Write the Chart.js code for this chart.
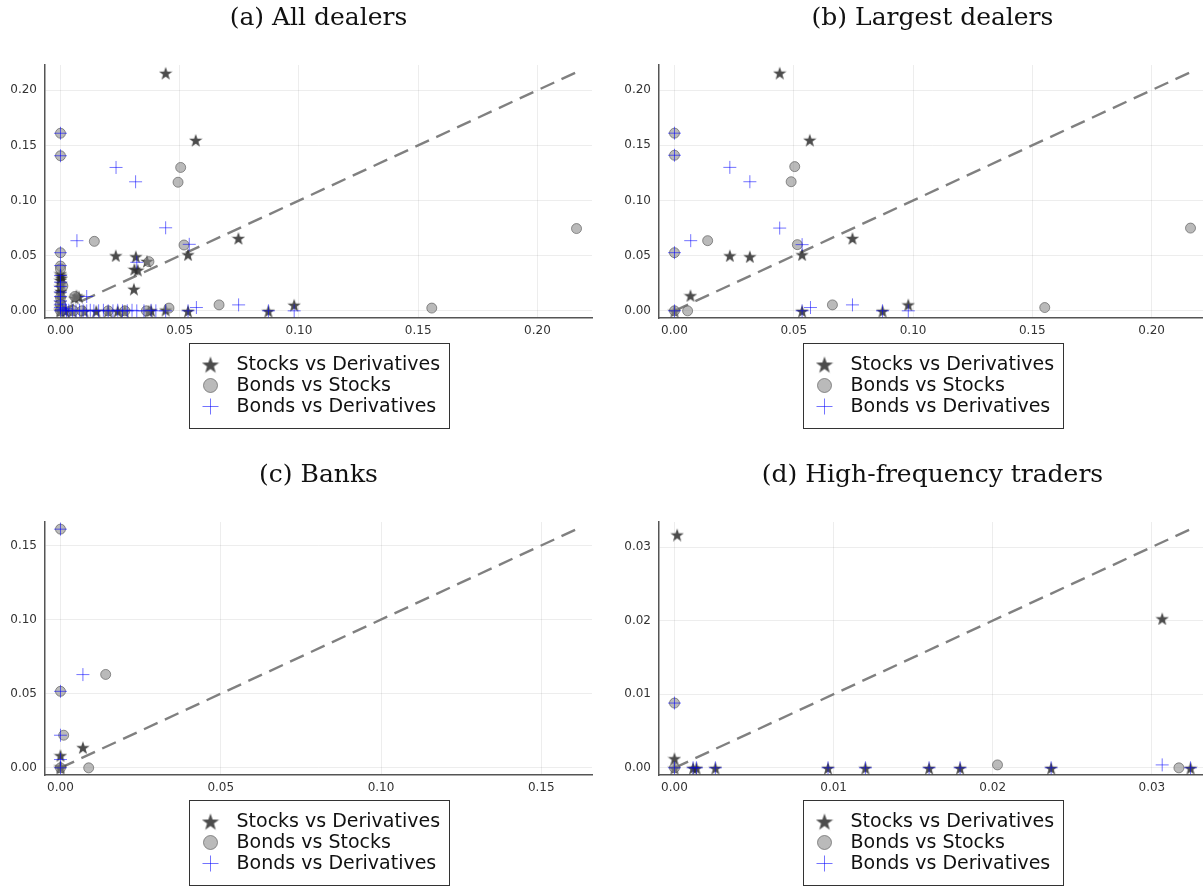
<!DOCTYPE html>
<html>
<head>
<meta charset="utf-8">
<script src="https://cdn.jsdelivr.net/npm/chart.js@4.4.1/dist/chart.umd.min.js"></script>
<style>
  html, body { margin: 0; padding: 0; background: #fff; overflow: hidden; width: 1203px; height: 886px; }
  .panel { position: absolute; width: 613px; height: 440px; }
</style>
</head>
<body>
<div class="panel" style="left:0;top:0"><canvas id="chartA" width="613" height="440"></canvas></div>
<div class="panel" style="left:614px;top:0"><canvas id="chartB" width="613" height="440"></canvas></div>
<div class="panel" style="left:0;top:457px"><canvas id="chartC" width="613" height="440"></canvas></div>
<div class="panel" style="left:614px;top:457px"><canvas id="chartD" width="613" height="440"></canvas></div>
<script>
// series labels, shared by all four panels
const seriesLabels = ['Stocks vs Derivatives', 'Bonds vs Stocks', 'Bonds vs Derivatives'];

// (a) All dealers
const aStocksDeriv = [
  [0.0441, 0.2158], [0.0567, 0.1550], [0.0746, 0.0660], [0.0232, 0.0503], [0.0316, 0.0494],
  [0.0535, 0.0512], [0.0363, 0.0452], [0.0324, 0.0372], [0.0310, 0.0380], [0.0308, 0.0200],
  [0.0059, 0.0120], [0.0077, 0.0130], [0.0067, 0.0140], [0.0980, 0.0055],
  [0.0441, 0.0010], [0.0535, 0.0000], [0.0872, 0.0000], [0.0269, 0.0000], [0.0370, 0.0000], [0.0380, 0.0005],
  [0.0000, 0.0340], [0.0002, 0.0320], [0.0004, 0.0300], [0.0000, 0.0280], [0.0003, 0.0250], [0.0000, 0.0220],
  [0.0002, 0.0180], [0.0000, 0.0160], [0.0001, 0.0120], [0.0000, 0.0080], [0.0000, 0.0040], [0.0000, 0.0010],
  [0.0000, 0.0000], [0.0020, 0.0000], [0.0050, 0.0000], [0.0100, 0.0000], [0.0150, 0.0000], [0.0200, 0.0000],
  [0.0240, 0.0000]
];
const aBondsStocks = [
  [0.0504, 0.1300], [0.0493, 0.1166], [0.0142, 0.0630], [0.0518, 0.0597], [0.0371, 0.0446],
  [0.0665, 0.0054], [0.0455, 0.0025], [0.1557, 0.0025], [0.2164, 0.0746],
  [0.0000, 0.1610], [0.0000, 0.1406], [0.0000, 0.0527], [0.0000, 0.0406], [0.0000, 0.0380],
  [0.0010, 0.0225], [0.0000, 0.0120], [0.0000, 0.0060], [0.0000, 0.0000], [0.0055, 0.0000],
  [0.0090, 0.0000], [0.0200, 0.0000], [0.0270, 0.0000], [0.0360, 0.0000], [0.0060, 0.0130]
];
const aBondsDeriv = [
  [0.0233, 0.1300], [0.0315, 0.1170], [0.0441, 0.0753], [0.0069, 0.0636], [0.0540, 0.0603],
  [0.0320, 0.0440], [0.0110, 0.0130], [0.0747, 0.0054], [0.0570, 0.0030], [0.0980, 0.0000],
  [0.0441, 0.0000], [0.0535, 0.0000], [0.0872, 0.0000],
  [0.0000, 0.1610], [0.0000, 0.1406], [0.0000, 0.0527], [0.0000, 0.0410], [0.0000, 0.0320],
  [0.0000, 0.0260], [0.0000, 0.0220], [0.0000, 0.0170], [0.0000, 0.0130], [0.0000, 0.0090],
  [0.0000, 0.0060], [0.0000, 0.0030], [0.0000, 0.0000], [0.0010, 0.0010], [0.0020, 0.0020],
  [0.0025, 0.0000], [0.0035, 0.0005], [0.0050, 0.0000], [0.0065, 0.0000], [0.0080, 0.0005],
  [0.0095, 0.0000], [0.0110, 0.0000], [0.0125, 0.0005], [0.0140, 0.0000], [0.0160, 0.0000],
  [0.0180, 0.0005], [0.0200, 0.0000], [0.0220, 0.0000], [0.0240, 0.0005], [0.0260, 0.0000],
  [0.0280, 0.0000], [0.0300, 0.0005], [0.0320, 0.0000], [0.0350, 0.0000], [0.0380, 0.0005],
  [0.0400, 0.0000]
];

// (b) Largest dealers
const bStocksDeriv = [
  [0.0441, 0.2158], [0.0567, 0.1550], [0.0746, 0.0660], [0.0232, 0.0503], [0.0316, 0.0494],
  [0.0535, 0.0512], [0.0067, 0.0141], [0.0535, 0.0000], [0.0872, 0.0000], [0.0000, 0.0000],
  [0.0980, 0.0058]
];
const bBondsStocks = [
  [0.0504, 0.1307], [0.0489, 0.1170], [0.0139, 0.0636], [0.0515, 0.0600], [0.0662, 0.0054],
  [0.0055, 0.0000], [0.0000, 0.1610], [0.0000, 0.1410], [0.0000, 0.0527], [0.0000, 0.0000],
  [0.1552, 0.0030], [0.2163, 0.0750]
];
const bBondsDeriv = [
  [0.0232, 0.1300], [0.0316, 0.1170], [0.0441, 0.0750], [0.0068, 0.0636], [0.0535, 0.0600],
  [0.0570, 0.0030], [0.0746, 0.0054], [0.0872, 0.0000], [0.0535, 0.0000], [0.0000, 0.1610],
  [0.0000, 0.1410], [0.0000, 0.0527], [0.0000, 0.0000], [0.0980, 0.0000]
];

// (c) Banks
const cStocksDeriv = [[0.0070, 0.0139], [0.0000, 0.0085], [0.0000, 0.0010], [0.0000, 0.0000]];
const cBondsStocks = [[0.0000, 0.1610], [0.0141, 0.0630], [0.0000, 0.0516], [0.0010, 0.0220], [0.0088, 0.0000], [0.0000, 0.0000]];
const cBondsDeriv = [[0.0000, 0.1610], [0.0070, 0.0629], [0.0000, 0.0516], [0.0000, 0.0220], [0.0000, 0.0056], [0.0000, 0.0000]];

// (d) High-frequency traders
const dStocksDeriv = [
  [0.00017, 0.0317], [0.0000, 0.0013], [0.0000, 0.0000], [0.00117, 0.0000], [0.00138, 0.0000],
  [0.00257, 0.0000], [0.00965, 0.0000], [0.0120, 0.0000], [0.0160, 0.0000], [0.01795, 0.0000],
  [0.02367, 0.0000], [0.03243, 0.0000], [0.03065, 0.0203]
];
const dBondsStocks = [[0.0000, 0.0088], [0.0203, 0.0004], [0.0317, 0.0000], [0.0000, 0.0000]];
const dBondsDeriv = [
  [0.0000, 0.0088], [0.03065, 0.0004], [0.0000, 0.0000], [0.00117, 0.0000], [0.00138, 0.0000],
  [0.00257, 0.0000], [0.00965, 0.0000], [0.0120, 0.0000], [0.0160, 0.0000], [0.01795, 0.0000],
  [0.02367, 0.0000], [0.03243, 0.0000]
];

const panelTitles = ['(a) All dealers', '(b) Largest dealers', '(c) Banks', '(d) High-frequency traders'];
const tickSteps = [0.05, 0.05, 0.05, 0.01];

// filled five-point star used as marker
function starImage(size, color) {
  const c = document.createElement('canvas');
  c.width = size; c.height = size;
  const g = c.getContext('2d');
  const r = size / 2, ri = r * 0.4;
  g.beginPath();
  for (let i = 0; i < 10; i++) {
    const ang = -Math.PI / 2 + i * Math.PI / 5;
    const rr = i % 2 ? ri : r;
    g.lineTo(r + rr * Math.cos(ang), r + 1 + rr * Math.sin(ang));
  }
  g.closePath();
  g.fillStyle = color;
  g.fill();
  return c;
}

const starColor = 'rgba(45,45,45,0.85)';
const circleFill = 'rgba(140,140,140,0.6)';
const circleEdge = 'rgba(80,80,80,0.6)';
const plusColor = 'rgba(0,0,255,0.55)';
const starMark = starImage(14, starColor);
const starLegend = starImage(18, starColor);

const toXY = arr => arr.map(p => ({ x: p[0], y: p[1] }));

// title above plot + boxed legend below it
const panelDecor = {
  id: 'panelDecor',
  afterDraw(chart, args, opts) {
    const ctx = chart.ctx, a = chart.chartArea;
    const cx = (a.left + a.right) / 2;
    ctx.save();
    ctx.fillStyle = '#111';
    ctx.font = '25px "DejaVu Serif"';
    ctx.textAlign = 'center';
    ctx.textBaseline = 'middle';
    ctx.fillText(opts.title, cx, 18);

    const bw = 260, bh = 85;
    const bx = Math.round(cx - bw / 2) + 0.5, by = Math.round(a.bottom + 25) + 0.5;
    ctx.fillStyle = '#fff';
    ctx.fillRect(bx, by, bw, bh);
    ctx.strokeStyle = '#333';
    ctx.lineWidth = 1;
    ctx.strokeRect(bx, by, bw, bh);

    const mx = bx + 21;
    const rows = [by + 21, by + 42, by + 63];
    ctx.drawImage(starLegend, mx - starLegend.width / 2, rows[0] - starLegend.height / 2);
    ctx.beginPath();
    ctx.arc(mx, rows[1], 7, 0, Math.PI * 2);
    ctx.fillStyle = circleFill;
    ctx.fill();
    ctx.strokeStyle = circleEdge;
    ctx.stroke();
    ctx.beginPath();
    ctx.moveTo(mx - 8, rows[2]); ctx.lineTo(mx + 8, rows[2]);
    ctx.moveTo(mx, rows[2] - 8); ctx.lineTo(mx, rows[2] + 8);
    ctx.strokeStyle = plusColor;
    ctx.stroke();

    ctx.fillStyle = '#111';
    ctx.font = '19px "DejaVu Sans"';
    ctx.textAlign = 'left';
    seriesLabels.forEach((t, i) => ctx.fillText(t, bx + 47, rows[i] + 1));
    ctx.restore();
  }
};

const makePanel = (canvasId, title, stars, circles, pluses, step) => {
  const all = stars.concat(circles, pluses);
  const hi = Math.max(...all.map(p => Math.max(p[0], p[1])));
  const lo = Math.min(0, ...all.map(p => Math.min(p[0], p[1])));
  const pad = 0.03 * (hi - lo);
  const tickFont = { family: 'DejaVu Sans', size: 12 };
  const axis = (isX) => ({
    type: 'linear',
    min: lo - pad,
    max: hi + pad,
    ticks: {
      stepSize: step,
      includeBounds: false,
      color: '#333',
      font: tickFont,
      padding: isX ? 6 : 8,
      maxRotation: 0,
      callback: v => v.toFixed(2)
    },
    grid: { color: 'rgba(0,0,0,0.07)', drawTicks: false },
    border: { color: '#555', width: 1.5 },
    afterFit: s => { if (isX) s.height = 22; else s.width = 45; }
  });

  new Chart(document.getElementById(canvasId), {
    type: 'scatter',
    data: {
      datasets: [
        {
          label: 'diagonal',
          data: [{ x: 0, y: 0 }, { x: hi, y: hi }],
          showLine: true,
          borderColor: '#808080',
          borderWidth: 2.4,
          borderDash: [15, 8],
          pointRadius: 0,
          order: 3
        },
        {
          label: seriesLabels[0],
          data: toXY(stars),
          pointStyle: starMark,
          order: 2
        },
        {
          label: seriesLabels[1],
          data: toXY(circles),
          pointStyle: 'circle',
          pointRadius: 5,
          backgroundColor: circleFill,
          borderColor: circleEdge,
          borderWidth: 1,
          order: 1
        },
        {
          label: seriesLabels[2],
          data: toXY(pluses),
          pointStyle: 'cross',
          pointRadius: 6.5,
          borderColor: plusColor,
          borderWidth: 1,
          order: 0
        }
      ]
    },
    options: {
      responsive: false,
      animation: false,
      events: [],
      layout: { padding: { top: 65, right: 21, bottom: 100, left: 0 } },
      plugins: {
        legend: { display: false },
        tooltip: { enabled: false },
        panelDecor: { title: title }
      },
      scales: { x: axis(true), y: axis(false) }
    },
    plugins: [panelDecor]
  });
};

makePanel('chartA', panelTitles[0], aStocksDeriv, aBondsStocks, aBondsDeriv, tickSteps[0]);
makePanel('chartB', panelTitles[1], bStocksDeriv, bBondsStocks, bBondsDeriv, tickSteps[1]);
makePanel('chartC', panelTitles[2], cStocksDeriv, cBondsStocks, cBondsDeriv, tickSteps[2]);
makePanel('chartD', panelTitles[3], dStocksDeriv, dBondsStocks, dBondsDeriv, tickSteps[3]);
</script>
</body>
</html>
